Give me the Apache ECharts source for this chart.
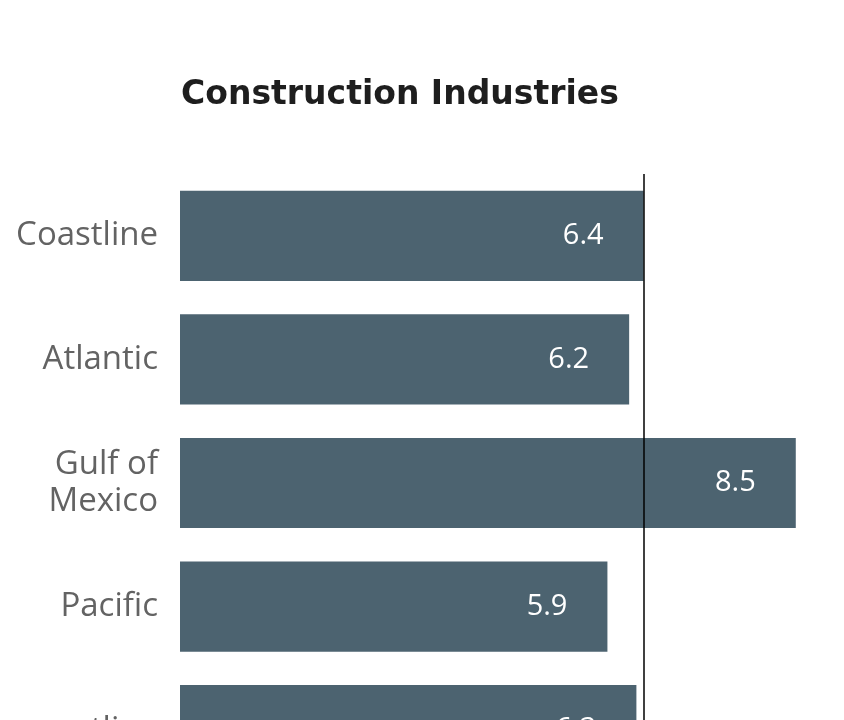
<!DOCTYPE html>
<html>
<head>
<meta charset="utf-8">
<script src="https://cdn.jsdelivr.net/npm/echarts@6/dist/echarts.min.js"></script>
<style>
html,body{margin:0;padding:0;background:#fff;overflow:hidden;}
#chart{width:844px;height:792px;}
</style>
</head>
<body>
<div id="chart"></div>
<script>
const titleText = 'Construction Industries';
const categories = ['Coastline', 'Atlantic', 'Gulf of\nMexico', 'Pacific', 'Noncoastline'];
const values = [6.4, 6.2, 8.5, 5.9, 6.3];
const referenceValue = 6.4;

const chart = echarts.init(document.getElementById('chart'), null, {renderer: 'canvas'});
chart.setOption({
  backgroundColor: '#ffffff',
  animation: false,
  title: {
    text: titleText,
    left: 181,
    top: 79,
    padding: 0,
    textStyle: {fontFamily: 'DejaVu Sans', fontWeight: 'bold', fontSize: 33, color: '#1e1e1e'}
  },
  grid: {left: 180, right: 12, top: 174, bottom: 0, containLabel: false, outerBoundsMode: 'none'},
  xAxis: {
    type: 'value', min: 0, max: 9,
    show: false,
    splitLine: {show: false}
  },
  yAxis: {
    type: 'category',
    data: categories,
    inverse: true,
    axisLine: {show: false},
    axisTick: {show: false},
    axisLabel: {
      margin: 22,
      fontFamily: 'Open Sans',
      fontSize: 33,
      lineHeight: 37,
      color: '#636363',
      align: 'right'
    }
  },
  series: [{
    type: 'bar',
    data: values,
    barCategoryGap: '27%',
    itemStyle: {color: '#4c6370'},
    label: {
      show: true,
      position: 'insideRight',
      distance: 40,
      fontFamily: 'Open Sans',
      fontSize: 29,
      color: '#ffffff',
      formatter: p => p.value.toFixed(1)
    },
    markLine: {
      silent: true,
      symbol: ['none', 'none'],
      label: {show: false},
      lineStyle: {color: '#000000', width: 1.5, type: 'solid'},
      data: [{xAxis: referenceValue}]
    }
  }]
});
</script>
</body>
</html>
